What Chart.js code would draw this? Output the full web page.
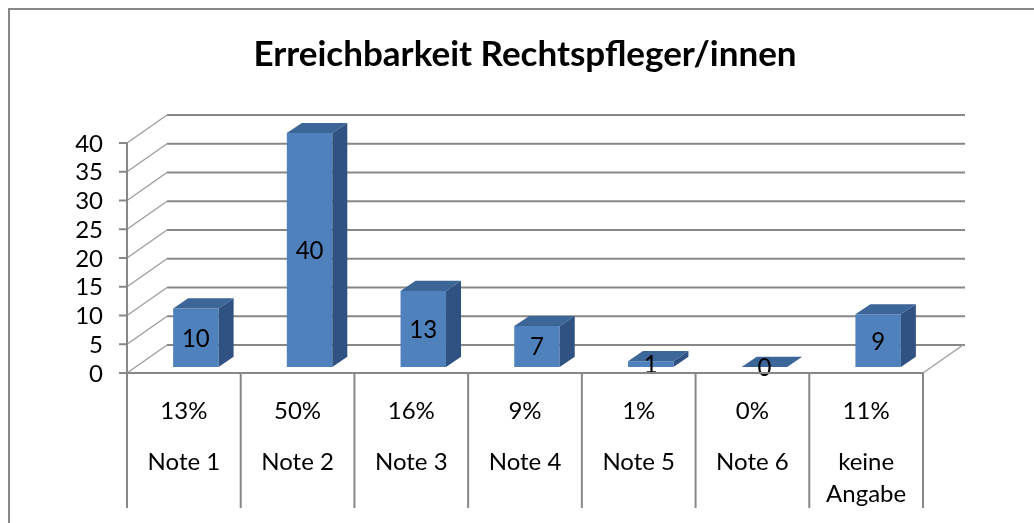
<!DOCTYPE html>
<html lang="de">
  <head>
    <meta charset="UTF-8" />
    <title>Erreichbarkeit Rechtspfleger/innen</title>
    <script src="https://cdn.jsdelivr.net/npm/chart.js@4.4.0/dist/chart.umd.min.js"></script>
    <style>
      body { margin: 0; background: #fff; }
      #box { position: relative; width: 1034px; height: 523px; }
    </style>
  </head>
  <body>
    <div id="box"><canvas id="myChart"></canvas></div>
    <script>
      // data
      const categories = [['Note 1'], ['Note 2'], ['Note 3'], ['Note 4'], ['Note 5'], ['Note 6'], ['keine', 'Angabe']];
      const values = [10, 40, 13, 7, 1, 0, 9];
      const percents = ['13%', '50%', '16%', '9%', '1%', '0%', '11%'];
      const yTicks = [0, 5, 10, 15, 20, 25, 30, 35, 40];

      const FONT = 'Lato, "Open Sans", sans-serif';
      const GRID = '#878787';
      const WALL = { x: 40, y: -28 };     // back wall offset
      const SHIFT = { x: 12, y: -6 };     // bars stand a bit behind the front axis
      const DEPTH = { x: 15, y: -10 };    // bar depth
      const K = 1.017;                    // bars are a touch taller than front axis

      function line(ctx, x1, y1, x2, y2) {
        ctx.beginPath(); ctx.moveTo(x1, y1); ctx.lineTo(x2, y2); ctx.stroke();
      }
      function poly(ctx, pts, fill) {
        ctx.beginPath();
        pts.forEach((p, i) => i ? ctx.lineTo(p[0], p[1]) : ctx.moveTo(p[0], p[1]));
        ctx.closePath(); ctx.fillStyle = fill; ctx.fill();
      }

      const frame3d = {
        id: 'frame3d',
        beforeDatasetsDraw(chart) {
          const { ctx, chartArea: a, scales: { y } } = chart;
          ctx.save();
          ctx.strokeStyle = GRID; ctx.lineWidth = 2;
          // outer chart border (open to the right and bottom)
          ctx.beginPath(); ctx.moveTo(9, 540); ctx.lineTo(9, 9); ctx.lineTo(1040, 9); ctx.stroke();

          yTicks.forEach(v => {
            const py = y.getPixelForValue(v);
            ctx.strokeStyle = GRID; ctx.lineWidth = 2;
            line(ctx, a.left + WALL.x, py + WALL.y, a.right + WALL.x + 2, py + WALL.y);
            ctx.strokeStyle = '#a0a0a0'; ctx.lineWidth = 1.5;
            line(ctx, a.left, py, a.left + WALL.x, py + WALL.y);
          });
          ctx.strokeStyle = '#a0a0a0'; ctx.lineWidth = 1.5;
          line(ctx, a.right, a.bottom, a.right + WALL.x, a.bottom + WALL.y);
          ctx.restore();

          // bars get drawn in the slightly shifted plane
          ctx.save();
          ctx.translate(SHIFT.x, a.bottom + SHIFT.y);
          ctx.scale(1, K);
          ctx.translate(0, -a.bottom);
        },
        afterDatasetsDraw(chart) {
          const { ctx, chartArea: a, scales: { x, y } } = chart;
          const meta = chart.getDatasetMeta(0);
          meta.data.forEach((el, i) => {
            const p = el.getProps(['x', 'y', 'base', 'width'], true);
            const l = p.x - p.width / 2, r = p.x + p.width / 2;
            const t = Math.min(p.y, p.base), b = p.base;
            poly(ctx, [[l, t], [r, t], [r + DEPTH.x, t + DEPTH.y], [l + DEPTH.x, t + DEPTH.y]], '#3c6598');
            poly(ctx, [[r, t], [r + DEPTH.x, t + DEPTH.y], [r + DEPTH.x, b + DEPTH.y], [r, b]], '#2f5282');
            ctx.fillStyle = '#000';
            ctx.font = '24px ' + FONT;
            ctx.textAlign = 'center'; ctx.textBaseline = 'middle';
            ctx.fillText(String(values[i]), p.x, (t + b) / 2 + 1);
          });
          ctx.restore();

          ctx.save();
          ctx.strokeStyle = GRID; ctx.lineWidth = 2;
          // front axis, floor edge, category separators
          const n = categories.length, cw = (a.right - a.left) / n;
          line(ctx, a.left, a.bottom, a.right, a.bottom);
          line(ctx, a.left, y.getPixelForValue(40), a.left, a.bottom + 135);
          for (let i = 1; i <= n; i++) {
            line(ctx, a.left + i * cw, a.bottom, a.left + i * cw, a.bottom + 135);
          }
          ctx.fillStyle = '#000';
          ctx.font = '24px ' + FONT;
          ctx.textBaseline = 'middle';
          // y ticks + labels
          ctx.textAlign = 'right';
          yTicks.forEach(v => {
            const py = y.getPixelForValue(v);
            line(ctx, a.left - 8, py, a.left, py);
            ctx.fillText(String(v), a.left - 24, py + 1);
          });
          // category table
          ctx.textAlign = 'center';
          categories.forEach((lines, i) => {
            const cx = x.getPixelForValue(i);
            ctx.fillText(percents[i], cx, a.bottom + 38);
            lines.forEach((s, j) => ctx.fillText(s, cx, a.bottom + 89 + j * 32));
          });
          ctx.restore();
        }
      };

      const ctx = document.getElementById('myChart').getContext('2d');
      new Chart(ctx, {
        type: 'bar',
        data: {
          labels: categories,
          datasets: [{
            data: values,
            backgroundColor: '#4f81bd',
            borderWidth: 0,
            barPercentage: 0.4,
            categoryPercentage: 1,
            clip: false
          }]
        },
        options: {
          responsive: true,
          maintainAspectRatio: false,
          animation: false,
          layout: { padding: { left: 127, right: 111, top: 0, bottom: 150 } },
          plugins: {
            legend: { display: false },
            tooltip: { enabled: false },
            title: {
              display: true,
              text: 'Erreichbarkeit Rechtspfleger/innen',
              color: '#000',
              font: { family: FONT, size: 35, weight: 'bold', lineHeight: 1.2 },
              padding: { top: 34, bottom: 67 }
            }
          },
          scales: {
            x: { display: false },
            y: { display: false, min: 0, max: 40 }
          }
        },
        plugins: [frame3d]
      });
    </script>
  </body>
</html>
